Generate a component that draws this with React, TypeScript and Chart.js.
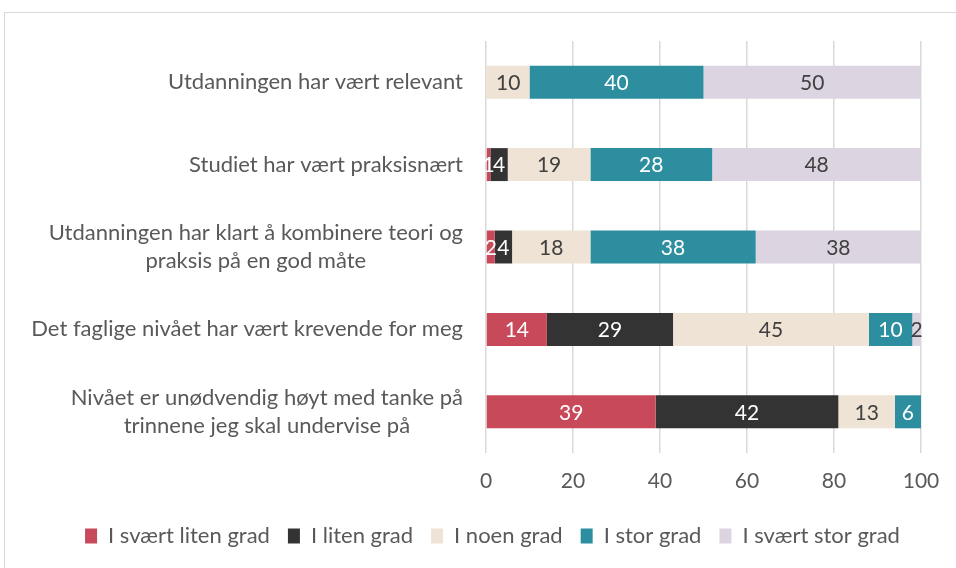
import React, { useEffect, useRef } from "react";
import { Chart, registerables } from "chart.js";

Chart.register(...registerables);

const categories: string[][] = [
  ["Utdanningen har vært relevant"],
  ["Studiet har vært praksisnært"],
  ["Utdanningen har klart å kombinere teori og", "praksis på en god måte"],
  ["Det faglige nivået har vært krevende for meg"],
  ["Nivået er unødvendig høyt med tanke på", "trinnene jeg skal undervise på"],
];

const seriesNames = [
  "I svært liten grad",
  "I liten grad",
  "I noen grad",
  "I stor grad",
  "I svært stor grad",
];

const sVeryLittle = [0, 1, 2, 14, 39];
const sLittle = [0, 4, 4, 29, 42];
const sSome = [10, 19, 18, 45, 13];
const sLarge = [40, 28, 38, 10, 6];
const sVeryLarge = [50, 48, 38, 2, 0];

const xTicks = [0, 20, 40, 60, 80, 100];

const colors = ["#C8495A", "#333333", "#EEE3D4", "#2D8E9F", "#DCD4E1"];
const labelColors = ["#FFFFFF", "#FFFFFF", "#404040", "#FFFFFF", "#404040"];

const FONT = "Lato, 'Liberation Sans', sans-serif";
const TEXT = "#595959";

const valueLabels = {
  id: "valueLabels",
  afterDatasetsDraw(chart: any) {
    const ctx = chart.ctx;
    ctx.save();
    ctx.font = `21px ${FONT}`;
    ctx.textAlign = "center";
    ctx.textBaseline = "middle";
    chart.data.datasets.forEach((ds: any, di: number) => {
      const meta = chart.getDatasetMeta(di);
      meta.data.forEach((el: any, i: number) => {
        const v = ds.data[i];
        if (!v) return;
        ctx.fillStyle = labelColors[di];
        const cx = (el.x + el.base) / 2;
        ctx.fillText(String(v), cx, el.y + 1);
      });
    });
    ctx.restore();
  },
};

const yLabels = {
  id: "yLabels",
  afterDraw(chart: any) {
    const ctx = chart.ctx;
    const y = chart.scales.y;
    const right = chart.chartArea.left - 23;
    const lh = 28;
    ctx.save();
    ctx.font = `22px ${FONT}`;
    ctx.fillStyle = TEXT;
    ctx.textAlign = "center";
    ctx.textBaseline = "middle";
    categories.forEach((lines, i) => {
      const cy = y.getPixelForValue(i);
      const maxW = Math.max(...lines.map((l) => ctx.measureText(l).width));
      const cx = right - maxW / 2;
      const start = cy - ((lines.length - 1) * lh) / 2;
      lines.forEach((l, j) => ctx.fillText(l, cx, start + j * lh));
    });
    ctx.restore();
  },
};

export default function App() {
  const ref = useRef<HTMLCanvasElement>(null);
  useEffect(() => {
    if (!ref.current) return;
    const data = [sVeryLittle, sLittle, sSome, sLarge, sVeryLarge];
    const chart = new Chart(ref.current, {
      type: "bar",
      data: {
        labels: categories.map((c) => c.join(" ")),
        datasets: seriesNames.map((name, i) => ({
          label: name,
          data: data[i],
          backgroundColor: colors[i],
          borderWidth: 0,
          barPercentage: 0.4,
          categoryPercentage: 1,
        })),
      },
      options: {
        indexAxis: "y",
        animation: false,
        responsive: true,
        maintainAspectRatio: false,
        layout: { padding: { left: 59, right: 35, top: 28, bottom: 11 } },
        scales: {
          x: {
            stacked: true,
            min: 0,
            max: 100,
            afterBuildTicks: (s: any) => {
              s.ticks = xTicks.map((v) => ({ value: v }));
            },
            afterFit: (s: any) => {
              s.height = 54;
            },
            ticks: { color: TEXT, font: { family: FONT, size: 21 }, padding: 16 },
            grid: { color: "#D9D9D9", lineWidth: 1.5, drawTicks: false },
            border: { display: false },
          },
          y: {
            stacked: true,
            ticks: { display: false },
            grid: { display: false, drawTicks: false },
            border: { display: false },
            afterFit: (s: any) => {
              s.width = 422;
            },
          },
        },
        plugins: {
          legend: {
            position: "bottom",
            labels: {
              color: TEXT,
              font: { family: FONT, size: 22 },
              boxWidth: 12,
              boxHeight: 15,
              padding: 18,
            },
          },
          tooltip: { enabled: false },
        },
      },
      plugins: [valueLabels, yLabels],
    });
    return () => chart.destroy();
  }, []);
  return (
    <div
      style={{
        position: "absolute",
        left: 4,
        top: 12,
        width: 980,
        height: 600,
        border: "1px solid #D9D9D9",
        boxSizing: "border-box",
      }}
    >
      <div style={{ position: "relative", width: 951, height: 555 }}>
        <canvas ref={ref} />
      </div>
    </div>
  );
}
